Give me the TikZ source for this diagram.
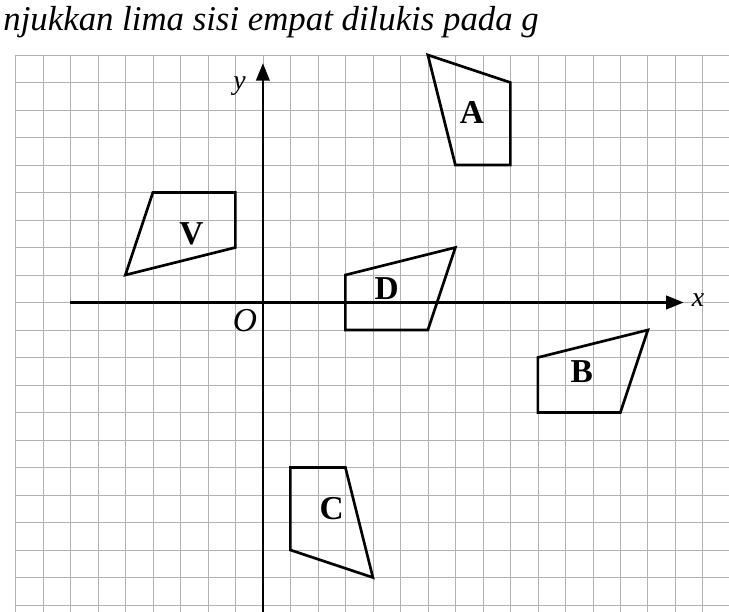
\documentclass[tikz,border=0pt]{standalone}
\usepackage{fontspec}
\setmainfont{Liberation Serif}
\usetikzlibrary{arrows.meta}

\begin{document}
\begin{tikzpicture}[x=0.5cm, y=0.5cm, every node/.style={font=\bfseries\LARGE},
    quad/.style={line width=1.4pt, line join=miter},
    axis/.style={line width=1.1pt, -{Triangle[length=9pt,width=7pt]}}]
            \useasboundingbox (-9.56,-11.24) rectangle (16.95,11.0);
            \clip (-9.56,-11.24) rectangle (16.95,11.0);
            \draw[step=1,gray!60,thin] (-9,-12) grid (17,9);
            % Header text
            \node[font=\itshape\fontsize{18}{21}\selectfont, anchor=base west, inner sep=0pt] (head) at (-9.45,9.9) {njukkan lima sisi empat dilukis pada g};
            % Axes
            \coordinate (xl) at (-7,0);
            \coordinate (xr) at (15.3,0);
            \coordinate (yb) at (0,-11.5);
            \coordinate (yt) at (0,8.7);
            \draw[axis] (xl) -- (xr);
            \draw[axis] (yb) -- (yt);
            \node[font=\itshape\Large, anchor=west] (xlab) at (15.35,0.1) {x};
            \node[font=\itshape\Large] (ylab) at (-0.85,7.85) {y};
            \node[font=\itshape\LARGE] (olab) at (-0.65,-0.65) {O};
            % Quadrilaterals
            \draw[quad] (6,9) -- (9,8) -- (9,5) -- (7,5) -- cycle;
            \node (A) at (7.6,6.9) {A};
            \draw[quad] (10,-2) -- (14,-1) -- (13,-4) -- (10,-4) -- cycle;
            \node (B) at (11.6,-2.5) {B};
            \draw[quad] (1,-6) -- (3,-6) -- (4,-10) -- (1,-9) -- cycle;
            \node (C) at (2.5,-7.5) {C};
            \draw[quad] (3,1) -- (7,2) -- (6,-1) -- (3,-1) -- cycle;
            \node (D) at (4.5,0.5) {D};
            \draw[quad] (-4,4) -- (-1,4) -- (-1,2) -- (-5,1) -- cycle;
            \node (V) at (-2.6,2.5) {V};
\end{tikzpicture}
\end{document}
